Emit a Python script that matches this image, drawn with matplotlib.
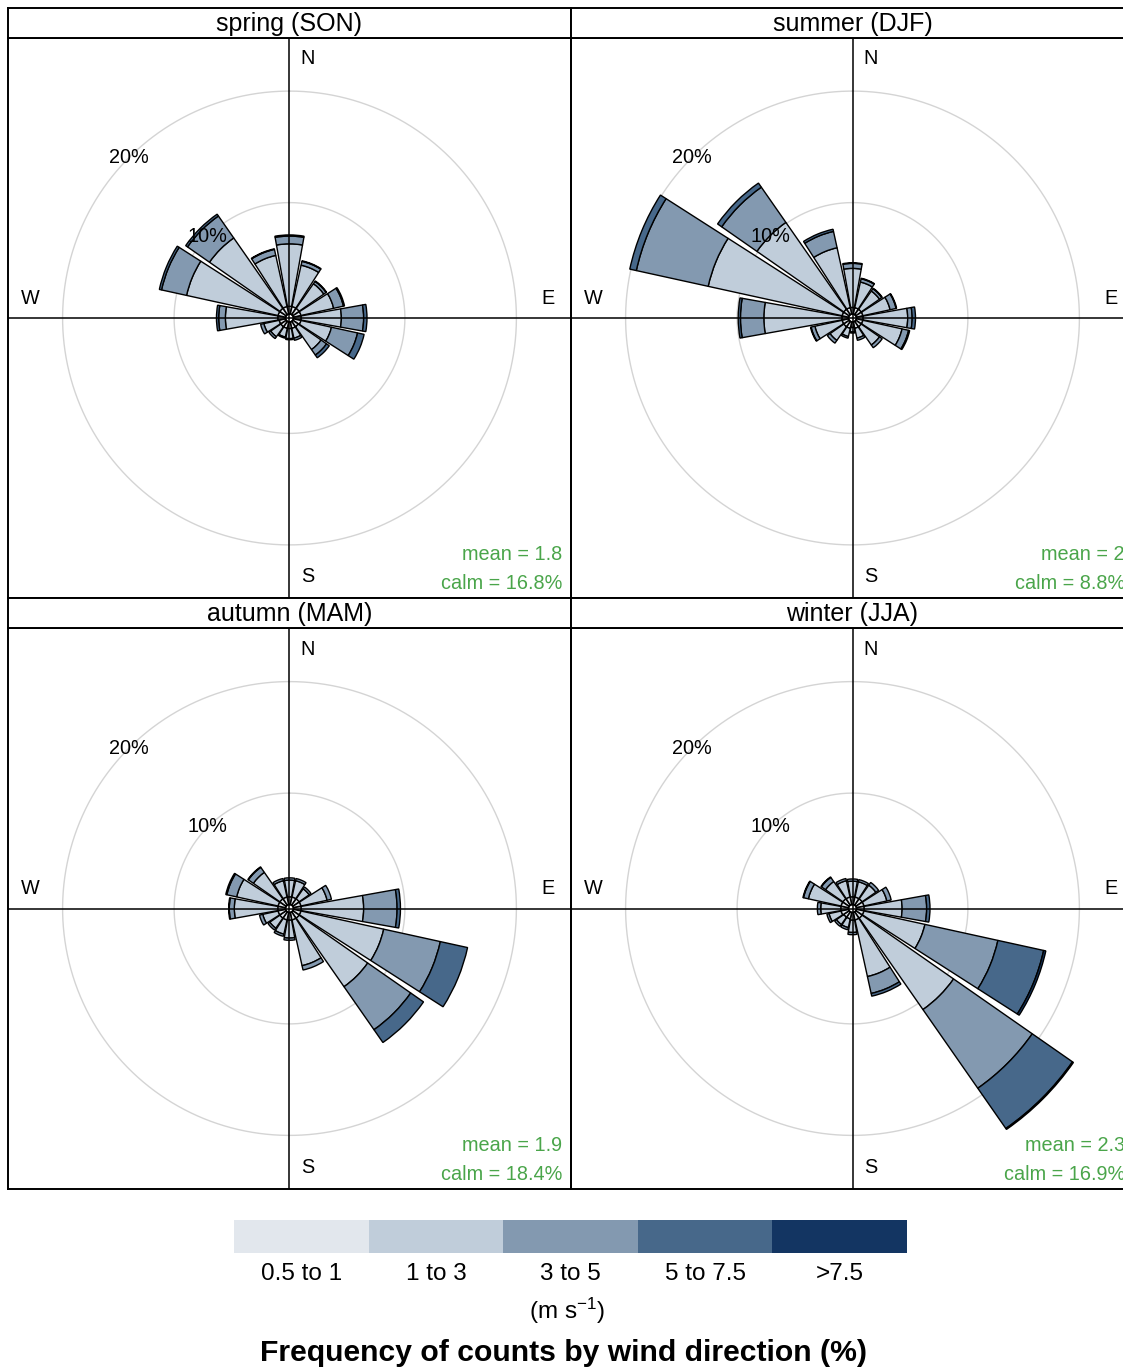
import numpy as np
import matplotlib
matplotlib.use("Agg")
import matplotlib.pyplot as plt

plt.rcParams['font.family'] = ['Liberation Sans', 'DejaVu Sans']
plt.rcParams['mathtext.fontset'] = 'custom'
plt.rcParams['mathtext.rm'] = 'Liberation Sans'
plt.rcParams['mathtext.it'] = 'Liberation Sans:italic'

# ---------------- data ----------------
directions = [0, 22.5, 45, 67.5, 90, 112.5, 135, 157.5,
              180, 202.5, 225, 247.5, 270, 292.5, 315, 337.5]
speed_labels = ['0.5 to 1', '1 to 3', '3 to 5', '5 to 7.5', '>7.5']
speed_colors = ['#e2e7ed', '#c0cdda', '#8399b0', '#47688a', '#133562']

season_titles = ['spring (SON)', 'summer (DJF)', 'autumn (MAM)', 'winter (JJA)']
season_means = ['1.8', '2', '1.9', '2.3']
season_calms = ['16.8', '8.8', '18.4', '16.9']

# frequency (%) per direction for each speed class
spring_b1 = [0.7, 0.7, 0.7, 0.7, 0.7, 0.7, 0.6, 0.6, 0.6, 0.6, 0.6, 0.6, 0.7, 0.7, 0.7, 0.7]
spring_b2 = [5.6, 3.8, 2.7, 3.0, 3.6, 2.8, 2.5, 0.9, 0.9, 0.8, 1.1, 1.4, 4.7, 8.4, 7.7, 4.7]
spring_b3 = [0.7, 0.35, 0.25, 0.9, 2.0, 2.4, 0.6, 0.2, 0.1, 0.1, 0.2, 0.3, 0.6, 2.3, 2.4, 0.55]
spring_b4 = [0.1, 0.05, 0.05, 0.1, 0.3, 0.6, 0.3, 0.0, 0.0, 0.0, 0.0, 0.0, 0.2, 0.2, 0.2, 0.05]
spring_b5 = [0.0] * 16

summer_b1 = [0.6, 0.6, 0.6, 0.6, 0.6, 0.6, 0.6, 0.6, 0.5, 0.6, 0.6, 0.6, 0.6, 0.6, 0.6, 0.6]
summer_b2 = [3.5, 2.35, 2.0, 2.5, 4.0, 3.6, 2.0, 0.9, 0.4, 0.75, 1.5, 2.5, 7.0, 12.3, 9.5, 5.5]
summer_b3 = [0.45, 0.3, 0.25, 0.55, 0.4, 0.6, 0.3, 0.2, 0.1, 0.15, 0.3, 0.35, 2.1, 6.6, 3.85, 1.5]
summer_b4 = [0.05, 0.05, 0.05, 0.05, 0.3, 0.1, 0.0, 0.0, 0.0, 0.0, 0.0, 0.05, 0.2, 0.6, 0.45, 0.2]
summer_b5 = [0.0] * 16

autumn_b1 = [0.7] * 16
autumn_b2 = [1.5, 1.5, 1.1, 2.4, 5.6, 7.6, 7.5, 4.2, 1.6, 1.3, 1.1, 1.4, 3.9, 3.8, 2.9, 1.5]
autumn_b3 = [0.2, 0.2, 0.2, 0.4, 3.0, 5.2, 4.7, 0.4, 0.2, 0.2, 0.2, 0.3, 0.45, 0.9, 0.55, 0.2]
autumn_b4 = [0.0, 0.0, 0.0, 0.0, 0.3, 2.5, 1.4, 0.0, 0.0, 0.0, 0.0, 0.0, 0.05, 0.1, 0.05, 0.0]
autumn_b5 = [0.0] * 16

winter_b1 = [0.7, 0.7, 0.7, 0.7, 0.7, 0.7, 0.7, 0.7, 0.7, 0.6, 0.6, 0.7, 0.7, 0.7, 0.7, 0.7]
winter_b2 = [1.4, 1.4, 1.5, 2.1, 3.4, 5.6, 10.0, 5.2, 1.1, 0.8, 0.8, 1.1, 1.8, 3.0, 1.9, 1.5]
winter_b3 = [0.2, 0.2, 0.3, 0.4, 2.2, 6.7, 8.6, 1.55, 0.2, 0.2, 0.2, 0.2, 0.3, 0.45, 0.45, 0.2]
winter_b4 = [0.0, 0.0, 0.0, 0.0, 0.3, 4.2, 4.4, 0.25, 0.0, 0.0, 0.0, 0.0, 0.0, 0.05, 0.05, 0.0]
winter_b5 = [0.0, 0.0, 0.0, 0.0, 0.0, 0.2, 0.1, 0.0, 0.0, 0.0, 0.0, 0.0, 0.0, 0.0, 0.0, 0.0]

season_bins = [
    [spring_b1, spring_b2, spring_b3, spring_b4, spring_b5],
    [summer_b1, summer_b2, summer_b3, summer_b4, summer_b5],
    [autumn_b1, autumn_b2, autumn_b3, autumn_b4, autumn_b5],
    [winter_b1, winter_b2, winter_b3, winter_b4, winter_b5],
]
grid_levels = [10, 20]

# ---------------- layout ----------------
W, H = 1123, 1371
fig = plt.figure(figsize=(W / 100, H / 100), dpi=100)
fig.patch.set_facecolor('white')

PXS = 11.15          # pixels per percent
OFF = 0.35           # hole radius (percent units)
panel_w = 563

panels = [  # left px, strip top, panel top, panel bottom
    (8, 8, 38, 598),
    (571, 8, 38, 598),
    (8, 598, 628, 1189),
    (571, 598, 628, 1189),
]

theta = np.deg2rad(np.array(directions))
width = np.deg2rad(22.5 * 0.9)
green = '#4aa54a'

for i, (lx, st, pt, pb) in enumerate(panels):
    rect = [lx / W, 1 - pb / H, panel_w / W, (pb - pt) / H]
    hh = (pb - pt) / 2 / PXS
    hw = panel_w / 2 / PXS

    # polar layer with wedges
    pax = fig.add_axes(rect, projection='polar')
    pax.set_theta_zero_location('N')
    pax.set_theta_direction(-1)
    pax.set_ylim(0, hh)
    pax.axis('off')
    pax.patch.set_alpha(0)
    circ = np.linspace(0, 2 * np.pi, 400)
    for g in grid_levels:
        pax.plot(circ, np.full_like(circ, OFF + g), color='#d4d4d4', lw=1.0, zorder=1)
    bottom = np.full(len(directions), OFF)
    for k, vals in enumerate(season_bins[i]):
        vals = np.array(vals)
        mask = vals > 0
        pax.bar(theta[mask], vals[mask], width=width, bottom=bottom[mask],
                color=speed_colors[k], edgecolor='black', linewidth=1.0, zorder=3)
        bottom = bottom + vals
    pax.plot(circ, np.full_like(circ, OFF), color='black', lw=1.0, zorder=4)

    # cartesian layer: frame, axes lines, labels
    ax = fig.add_axes(rect)
    ax.set_xlim(-hw, hw)
    ax.set_ylim(-hh, hh)
    ax.patch.set_alpha(0)
    ax.set_xticks([])
    ax.set_yticks([])
    for s in ax.spines.values():
        s.set_linewidth(1.4)
    ax.axhline(0, color='black', lw=1.1, zorder=5)
    ax.axvline(0, color='black', lw=1.1, zorder=5)
    d = 259 / PXS
    o = 18 / PXS
    fs = 14.3
    ax.text(o, d, 'N', ha='center', va='center', fontsize=fs)
    ax.text(o, -d, 'S', ha='center', va='center', fontsize=fs)
    ax.text(d, 20 / PXS, 'E', ha='center', va='center', fontsize=fs)
    ax.text(-d, 20 / PXS, 'W', ha='center', va='center', fontsize=fs)
    for g in grid_levels:
        r = OFF + g
        ax.text(-r * np.sin(np.pi / 4), r * np.cos(np.pi / 4), f'{g}%',
                ha='center', va='center', fontsize=fs, zorder=6)
    ax.text(0.984, 0.078, f'mean = {season_means[i]}', transform=ax.transAxes,
            ha='right', va='center', fontsize=fs, color=green)
    ax.text(0.984, 0.026, f'calm = {season_calms[i]}%', transform=ax.transAxes,
            ha='right', va='center', fontsize=fs, color=green)

    # strip
    sax = fig.add_axes([lx / W, 1 - pt / H, panel_w / W, (pt - st) / H])
    sax.set_xticks([])
    sax.set_yticks([])
    for s in sax.spines.values():
        s.set_linewidth(1.4)
    sax.text(0.5, 0.45, season_titles[i], transform=sax.transAxes,
             ha='center', va='center', fontsize=18)

# ---------------- legend ----------------
lax = fig.add_axes([234 / W, 1 - 1253 / H, (907 - 234) / W, 33 / H])
for k, c in enumerate(speed_colors):
    lax.barh(0, 1, left=k, height=1, color=c, edgecolor='none')
lax.set_xlim(0, len(speed_colors))
lax.set_ylim(-0.5, 0.5)
lax.axis('off')
for k, lab in enumerate(speed_labels):
    fig.text((234 + (k + 0.5) * (907 - 234) / 5) / W, 1 - 1274 / H, lab,
             ha='center', va='center', fontsize=17.5)
fig.text(567 / W, 1 - 1311 / H, r'(m s$^{-1}$)', ha='center', va='center', fontsize=17.5)
fig.text(563 / W, 1 - 1353 / H, 'Frequency of counts by wind direction (%)',
         ha='center', va='center', fontsize=21.7, fontweight='bold')

fig.savefig('out.png', dpi=100, facecolor='white')
